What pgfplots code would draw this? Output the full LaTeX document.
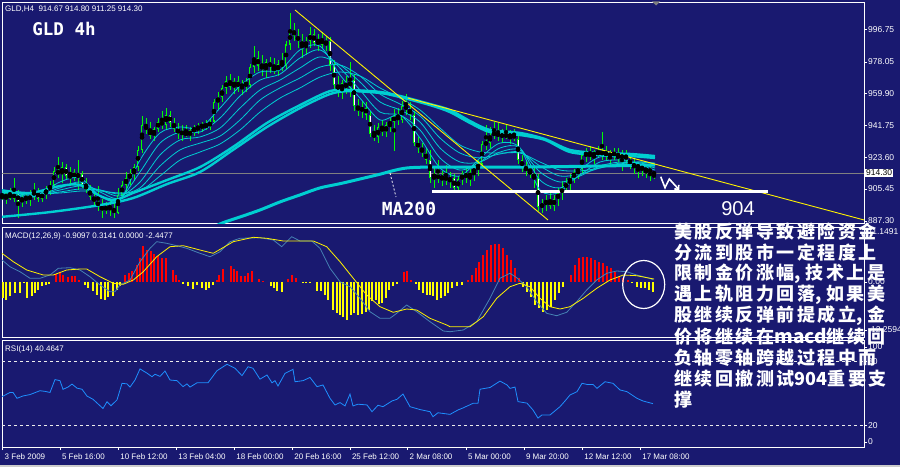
\documentclass[border=0pt]{standalone}
\usepackage{fontspec}
\setmainfont{Liberation Sans}
\newfontfamily\pix{DejaVu Sans Mono}
\newfontfamily\cjk[LetterSpace=14]{Noto Sans CJK SC}
\newfontfamily\cjkn{Noto Sans CJK SC}
\usepackage{pgfplots}
\pgfplotsset{compat=1.18}
\usepackage{pgfplotstable}
\usetikzlibrary{arrows.meta}

\definecolor{mtbg}{RGB}{25,25,112}
\definecolor{bull}{RGB}{0,255,0}
\definecolor{ma}{RGB}{0,206,209}
\definecolor{macdblue}{RGB}{70,130,180}
\definecolor{rsiblue}{RGB}{30,144,255}
\definecolor{histred}{RGB}{255,0,0}
\definecolor{histyel}{RGB}{255,255,0}

\pgfplotsset{
  mt/.style={scale only axis, width=862pt, xmin=2, xmax=864, anchor=south west,
    axis line style={white, line width=0.8pt},
    xtick=\empty,
    ytick pos=right, yticklabel pos=right,
    tick align=outside, major tick length=3pt,
    tick style={white, line width=0.6pt},
    tick label style={font=\fontsize{8.5}{10}\selectfont, text=white},
    yticklabel style={inner xsep=1pt},
  },
  cdl/.style={only marks, mark=none, forget plot,
    error bars/.cd, y dir=both, y explicit, error mark=none,
    error bar style={#1}},
}

% GLD 4h candles: x (pixel column), open high low close
\pgfplotstableread{
x o h l c
2 902 905 899 900
6 900 904 897 903
10 903 906 899 900
14 900 912 898 903
18 903 905 889 898
22 898 903 895 901
26 901 904 897 899
30 899 905 896 902
34 902 909 899 904
38 904 906 898 900
42 900 905 898 903
46 903 907 900 905
50 905 910 902 908
54 908 918 906 916
58 916 924 912 914
62 914 921 909 918
66 918 920 911 913
70 913 918 907 915
74 915 917 910 912
78 912 922 905 914
82 914 916 906 908
86 908 912 903 905
90 905 908 899 901
94 901 904 896 898
98 898 907 893 896
102 896 900 889 893
106 893 898 891 896
110 896 899 890 894
114 894 898 889 892
118 892 906 891 902
122 902 910 900 908
126 908 915 904 912
130 912 917 908 914
134 914 920 910 918
138 918 930 916 928
142 928 947 926 942
146 942 946 937 939
150 939 944 934 936
154 936 941 933 940
158 940 946 938 944
162 944 950 940 942
166 942 952 940 948
170 948 950 941 943
174 943 946 938 940
178 940 943 934 937
182 937 942 933 938
186 938 942 935 936
190 936 941 933 939
194 939 942 936 940
198 940 943 937 941
202 941 944 938 942
206 942 945 939 941
210 941 946 939 944
214 944 957 943 955
218 955 961 951 958
222 958 965 955 963
226 963 970 960 967
230 967 971 962 964
234 964 969 960 967
238 967 970 961 963
242 963 968 959 966
246 966 969 961 965
250 965 977 963 975
254 975 987 972 980
258 980 984 973 976
262 976 982 970 974
266 974 980 969 978
270 978 981 972 975
274 975 980 971 973
278 973 979 970 977
282 977 983 973 976
286 976 990 974 988
290 988 1006 985 996
294 996 1000 990 993
298 993 997 986 990
302 990 994 980 987
306 987 992 982 990
310 990 998 986 994
314 994 997 987 989
318 989 994 984 991
322 991 995 986 988
326 988 993 984 990
330 990 992 973 976
334 976 979 962 965
338 965 970 958 962
342 962 968 957 966
346 966 970 960 963
350 963 978 958 968
354 968 971 950 953
358 953 957 947 950
362 950 956 946 952
366 952 955 945 948
370 948 950 935 937
374 937 942 933 935
378 935 943 932 941
382 941 945 936 938
386 938 944 935 942
390 942 946 938 944
394 944 951 927 947
398 947 952 942 945
402 945 956 943 953
406 953 960 948 951
410 951 955 945 948
414 948 950 930 932
418 932 935 926 929
422 929 932 924 926
426 926 929 920 922
430 922 928 909 912
434 912 918 906 914
438 914 922 909 911
442 911 916 907 913
446 913 919 908 910
450 910 915 906 912
454 912 914 903 906
458 906 913 904 911
462 911 916 908 914
466 914 918 909 912
470 912 917 907 915
474 915 919 910 917
478 917 922 913 920
482 920 933 918 931
486 931 942 928 932
490 932 941 929 936
494 936 944 934 938
498 938 943 933 935
502 935 940 932 937
506 937 942 934 935
510 935 939 931 937
514 937 940 933 934
518 934 937 920 922
522 922 925 915 918
526 918 922 913 916
530 916 920 912 914
534 914 918 906 912
538 912 914 893 895
542 895 900 892 897
546 897 902 893 899
550 899 903 894 896
554 896 902 893 900
558 900 906 896 903
562 903 910 899 906
566 906 912 903 909
570 909 914 905 912
574 912 917 909 915
578 915 919 911 917
582 917 927 914 925
586 925 929 921 926
590 926 930 922 924
594 924 928 920 927
598 927 930 923 925
602 925 938 922 927
606 927 930 922 924
610 924 928 919 926
614 926 929 922 925
618 925 929 921 923
622 923 928 916 925
626 925 928 920 922
630 922 925 917 920
634 920 923 914 918
638 918 921 912 919
642 919 921 913 916
646 916 919 912 917
650 917 918 910 915
654 914.67 914.8 911.25 914.3
}\candles

% moving-average ribbon
\pgfplotstableread{
x r1 r2 r3 r4 r5
0 902.1 902.6 903.2 903.8 903.8
30 900.3 900.9 901.5 902.1 902.6
60 909.5 906.1 904.9 903.8 903.2
80 911.8 909.5 907.2 905.5 904.3
100 901.5 903.8 904.9 904.9 904.3
120 899.2 900.3 901.5 902.6 903.2
140 922.0 915.2 909.5 906.1 904.3
160 937.5 931.7 924.9 918.6 912.9
180 940.9 938.0 933.5 927.8 922.0
200 940.3 938.0 935.2 931.7 926.6
220 951.7 946.0 940.3 935.7 931.2
240 964.3 958.6 951.7 944.9 939.2
260 972.3 967.7 962.0 956.3 949.4
280 973.4 971.1 967.7 963.2 957.4
300 984.9 980.3 974.6 968.9 963.2
320 987.1 984.9 980.9 975.1 969.4
340 970.6 974.6 976.3 976.3 972.3
360 957.4 962.0 966.6 970.0 970.0
380 944.9 949.4 955.2 959.7 963.2
400 947.7 947.7 950.6 954.0 957.4
420 934.6 939.2 943.7 947.2 950.6
440 917.5 923.2 928.9 934.6 940.3
460 912.9 916.3 920.9 926.0 930.6
480 923.2 920.9 920.9 923.2 926.6
500 931.7 928.9 926.6 925.5 926.0
520 928.9 928.9 927.8 926.6 926.0
540 904.9 910.6 915.2 918.6 920.9
560 903.8 906.1 909.5 912.9 916.3
580 916.3 913.5 912.9 914.0 915.8
600 923.8 920.9 918.6 917.5 917.5
620 923.2 922.0 920.9 920.3 919.8
640 919.2 919.8 920.3 920.9 920.9
655 916.3 917.5 918.6 919.8 920.3
}\ribbon

\begin{document}
\begin{tikzpicture}
\path[use as bounding box, fill=mtbg] (0,0) rectangle (900pt,467pt);
\fill[gray!40] (0,0) rectangle (900pt,2pt);

% ---------------- price panel
\begin{axis}[mt, at={(2pt,244pt)}, height=221pt,
  ymin=886.07, ymax=1012.26,
  ytick={887.30,905.45,923.60,941.75,959.90,978.05,996.75},
  yticklabels={887.30,905.45,923.60,941.75,959.90,978.05,996.75}]
\addplot[gray, line width=0.8pt, forget plot] coordinates {(2,914.3) (864,914.3)};
\addplot[cdl={draw=bull, line width=1pt}] table[x=x, y expr={(\thisrow{h}+\thisrow{l})/2}, y error expr={(\thisrow{h}-\thisrow{l})/2}] {\candles};
\addplot[cdl={draw=bull, line width=2.8pt}] table[x=x, y expr={(\thisrow{o}+\thisrow{c})/2}, y error expr={max(abs(\thisrow{o}-\thisrow{c})/2,0.35)}] {\candles};
\addplot[cdl={draw=white, line width=0.9pt}] table[x=x, y expr={ifthenelse(\thisrow{o}>\thisrow{c},(\thisrow{o}+\thisrow{c})/2,2000)}, y error expr={max(abs(\thisrow{o}-\thisrow{c})/2-0.6,0)}] {\candles};
\addplot[cdl={draw=mtbg, line width=0.9pt}] table[x=x, y expr={ifthenelse(\thisrow{c}>\thisrow{o},(\thisrow{o}+\thisrow{c})/2,2000)}, y error expr={max(abs(\thisrow{o}-\thisrow{c})/2-0.6,0)}] {\candles};
% ribbon
\addplot[ma, line width=0.8pt, smooth] table[x=x, y=r1] {\ribbon};
\addplot[ma, line width=0.8pt, smooth] table[x=x, y=r2] {\ribbon};
\addplot[ma, line width=0.8pt, smooth] table[x=x, y=r3] {\ribbon};
\addplot[ma, line width=0.8pt, smooth] table[x=x, y=r4] {\ribbon};
\addplot[ma, line width=0.8pt, smooth] table[x=x, y=r5] {\ribbon};
% slower averages
\addplot[ma, line width=2.4pt, smooth] coordinates {(0,904.9) (30,903.2) (60,907.2) (80,907.8) (100,901.5) (115,899.2) (133,903.2) (167,910.6) (200,918.0) (233,929.5) (267,943.2) (300,953.4) (330,961.4) (350,962.0) (380,960.9) (400,958.6) (430,954.0) (450,950.6) (470,944.3) (490,939.2) (520,937.5) (545,934.0) (570,927.8) (600,926.0) (630,925.5) (655,924.3)};
\addplot[ma, line width=2.4pt, smooth] coordinates {(0,889.5) (50,892.3) (100,896.3) (133,900.3) (167,908.3) (200,915.2) (233,927.8) (267,940.9) (300,951.7) (330,959.7) (350,961.4) (380,960.3) (400,958.0) (430,953.4) (450,949.4) (470,943.2) (490,938.0) (520,936.3) (545,933.5) (570,926.6) (600,924.9) (630,924.3) (655,923.2)};
% MA200
\addplot[ma, line width=3pt, smooth] coordinates {(200,879) (220,885.5) (240,889.5) (260,893.5) (280,898.1) (300,902.1) (320,906.1) (343,908.9) (377,913.5) (407,917.5) (450,918.0) (520,918.0) (600,918.6) (655,919.2)};
% trend lines and support
\addplot[yellow, line width=0.9pt] coordinates {(295,1007.7) (548,887.8)};
\addplot[yellow, line width=0.9pt] coordinates {(408,957.4) (864,887.8)};
\addplot[white, line width=2.6pt] coordinates {(432,904.0) (768,904.0)};
\end{axis}

% ---------------- MACD panel
\begin{axis}[mt, at={(2pt,130pt)}, height=110pt,
  ymin=-55, ymax=55, ytick={50,0,-48}, yticklabels={11.1491,0.00,-12.2594}]
\addplot[ycomb, histyel, line width=1.2pt] coordinates {
(3,-16) (6,-17.7) (10,-14.3) (15,-11) (20,-11) (24,-1) (27,-16) (32,-14.3) (35,-11) (38,-7.7) (42,-4.3) (46,-2.7) (49,-2)
(85,-2.7) (88,-6) (93,-9.3) (97,-13.3) (101,-16.7) (105,-17.7) (108,-15.3) (113,-14.3) (117,-7.7) (120,-4.3)
(183,-2) (188,-4.3) (193,-6.7) (197,-2.7) (202,-6) (206,-7.7) (209,-6) (213,-3.3)
(271,-4.3) (274,-6) (277,-9.3) (282,-10)
(303,-0.7) (306,-0.7) (310,-0.7)
(317,-8.7) (321,-9.3) (325,-12.7) (328,-17.7) (333,-27.7) (337,-31) (340,-32.7) (343,-35) (347,-37.7) (351,-32.7) (354,-31) (358,-32.7) (362,-32) (366,-30) (369,-27.7) (372,-19.3) (376,-17.7) (379,-22) (382,-21) (386,-16) (389,-7.7) (393,-4.3) (397,-2)
(416,-2) (419,-7.7) (423,-11) (427,-12.7) (430,-13) (433,-14.3) (437,-17.7) (441,-16) (445,-14.3) (448,-11)
(452,-6) (457,-4) (462,-3)
(523,-4.7) (527,-9.7) (531,-14.7) (535,-23) (539,-26.3) (543,-29.7) (547,-28) (551,-24.7) (555,-18) (559,-11.3) (563,-4.7)
(632,-1) (637,-4.7) (641,-5.7) (645,-6.3) (649,-8) (653,-9.7)};
\addplot[ycomb, histred, line width=1.2pt] coordinates {
(56,8) (60,9.7) (63,7.3) (68,4.7) (72,5.7) (75,5.7) (79,2.3)
(125,7.3) (129,9) (132,10.7) (137,17.3) (140,24) (143,35.7) (147,32.3) (151,30.7) (154,28) (158,25.7) (162,24) (166,24) (173,11.7) (176,6.7) (179,2.3)
(217,2.3) (219,7.3) (223,13) (231,15.7) (234,13.3) (237,10.7) (241,5.7) (245,5.7) (248,9) (252,11.3) (259,3.3) (263,0.7)
(288,3.3) (292,7.3) (296,4)
(404,9.7) (407,10.7) (411,2.3)
(468,2) (472,7) (476,13.7) (479,20.3) (483,27) (487,32) (491,37) (495,37.7) (499,37.7) (503,33.7) (507,27) (511,22) (515,13.7) (519,3.7)
(571,7) (575,17) (579,23.7) (583,25.3) (587,25.3) (591,23.7) (595,22) (599,20.3) (603,18.7) (607,16.3) (611,14.3) (615,10.3) (619,5.3) (623,3.7) (628,2)};
\addplot[macdblue, line width=0.8pt] coordinates {
(2,22) (10,15.3) (20,10.3) (30,3.7) (40,3.7) (50,7) (58.3,13.7) (70,14.3) (80,12) (90,5.3) (100,-3) (110,-9.7) (115,-9.7) (120,-3) (130,2) (140,20.3) (150,33.7) (156.7,40.3) (166.7,38.7) (176.7,36.3) (186.7,33.7) (200,28.7) (210,25.3) (220,30.3) (230,40.3) (240,43.7) (260,44.3) (273.3,42) (281.7,35.3) (291.7,45.3) (300,41) (311.7,41) (320,33.7) (330,13.7) (340,0.3) (350,-4.7) (360,-16.3) (370,-29.7) (380,-36.3) (390,-36.3) (396.7,-31.3) (406.7,-23) (416.7,-29.7) (430,-39.7) (443.3,-49) (450,-49.7) (463.3,-48) (476.7,-39.7) (490,-16.3) (500,3.7) (510,8.7) (516.7,4.3) (526.7,-4.7) (536.7,-19.7) (546.7,-31.3) (556.7,-33.7) (566.7,-30.3) (576.7,-19.7) (586.7,-8) (596.7,2) (606.7,8.7) (616.7,11) (626.7,10.3) (636.7,7) (650,3.7) (653.3,2)};
\addplot[yellow, line width=0.8pt] coordinates {
(2,28.7) (13.3,20.3) (26.7,12) (43.3,7) (53.3,7) (66.7,12) (80,13) (86.7,13) (100,5.3) (113.3,-1.3) (123.3,-2.3) (133.3,2) (143.3,10.3) (156.7,25.3) (170,35.3) (183.3,36.3) (200,32) (213.3,28.7) (233.3,40.3) (253.3,44.7) (266.7,43.7) (283.3,41) (313.3,41) (326.7,35.3) (340,20.3) (353.3,3.7) (366.7,-13) (380,-24.7) (393.3,-30.3) (406.7,-27) (416.7,-28) (430,-36.3) (446.7,-43) (450,-44.7) (470,-44.7) (483.3,-34.7) (496.7,-16.3) (510,-4.7) (520,-1.3) (530,-4.7) (540,-16.3) (550,-24.7) (560,-27) (570,-24.7) (583.3,-16.3) (596.7,-6.3) (610,2) (623.3,7) (636.7,6.3) (650,3.7) (654,3)};
\end{axis}

% ---------------- RSI panel
\begin{axis}[mt, at={(2pt,20pt)}, height=107pt,
  ymin=0, ymax=100, ytick={4.7,20,80,93.5}, yticklabels={0,20,80,100},
  xtick={2.7,60,118.3,176.3,234.3,292.3,350,407.7,466,524,582.3,640.3},
  xticklabels={3 Feb 2009,5 Feb 16:00,10 Feb 12:00,13 Feb 04:00,18 Feb 00:00,20 Feb 16:00,25 Feb 12:00,2 Mar 08:00,5 Mar 00:00,9 Mar 20:00,12 Mar 12:00,17 Mar 08:00},
  xtick pos=left, xticklabel pos=left,
  xticklabel style={anchor=north west, xshift=-1.5pt, font=\fontsize{8}{9.6}\selectfont}]
\addplot[white!85!gray, line width=0.6pt, dash pattern=on 3pt off 3pt] coordinates {(2,80) (864,80)};
\addplot[white!85!gray, line width=0.6pt, dash pattern=on 3pt off 3pt] coordinates {(2,20) (864,20)};
\addplot[rsiblue, line width=0.8pt] coordinates {
(2,47) (10,51) (13,51) (17,45.5) (23,47.7) (30,49) (40,52.6) (45,52) (50,51) (55,63) (60,62) (63,53.9) (68,56) (72,58.8) (77,55) (82,54) (87,47.6) (93,44.6) (103,36) (107,42.3) (111,38.6) (117,44) (122,59.5) (127,59) (130,56) (135,62.6) (140,73) (147,69) (152,65.7) (155,68) (160,66) (165,71) (170,62.6) (177,62) (183,56.4) (187,59) (190,56) (197,60) (208,60) (217,71.3) (227,77.3) (235,73.6) (242,66.7) (248,75) (253,73.6) (260,63.4) (267,67.3) (272,60) (275,62) (278,57) (285,68.8) (293,72.6) (295,61) (303,62) (310,65) (317,56.4) (323,58) (330,45.5) (335,39.3) (340,41.5) (345,38.4) (350,49.5) (353,38.4) (358,40) (367,39.3) (372,33) (378,39) (383,37.7) (392,43) (397,44.6) (403,49.5) (410,37.7) (420,35) (430,33) (433,28.3) (438,32) (450,30.5) (458,34.6) (463,36.5) (473,40.8) (478,40.8) (480,54) (490,55.6) (500,61.6) (507,58) (510,54.8) (515,56) (518,42.4) (527,41) (533,34.6) (538,27) (542,30) (550,29.9) (560,37.7) (565,43) (570,48.6) (577,51.7) (582,59.5) (587,58.5) (593,58.5) (597,54.8) (605,61) (613,59.5) (620,53.3) (627,51.7) (637,45.5) (643,43) (653,40.5)};
\end{axis}

% ---------------- labels and drawings on the chart
\fill[gray] (652pt,465.5pt) -- (660pt,465.5pt) -- (656pt,461.5pt) -- cycle;
\node[anchor=west, text=white, inner sep=0, font=\fontsize{8}{9}\selectfont] at (5pt,457.5pt) {GLD,H4\ \ 914.67 914.80 911.25 914.30};
\node[anchor=west, text=white, inner sep=0, font=\fontsize{8}{9}\selectfont] at (5pt,230.5pt) {MACD(12,26,9) -0.9097 0.3141 0.0000 -2.4477};
\node[anchor=west, text=white, inner sep=0, font=\fontsize{8}{9}\selectfont] at (5pt,117.5pt) {RSI(14) 40.4647};
\node[anchor=west, fill=white, text=black, inner sep=1pt, font=\fontsize{8.5}{10}\selectfont] at (865pt,294pt) {914.30};
\node[text=white, inner sep=0, font=\pix\bfseries\fontsize{17.5}{18}\selectfont] at (64pt,438pt) {GLD 4h};
\node[text=white, inner sep=0, font=\pix\bfseries\fontsize{18}{18}\selectfont] at (409pt,258pt) {MA200};
\node[text=white, inner sep=0, font=\fontsize{20}{20}\selectfont] at (738pt,258pt) {904};
\draw[white, line width=0.8pt, dash pattern=on 2pt off 2pt] (390pt,294pt) -- (396pt,270pt);
\draw[white, line width=1.6pt, -{Straight Barb[length=3pt]}] (660.7pt,290.3pt) -- (665pt,279.3pt) -- (669.3pt,288pt) -- (679.3pt,277pt);
\draw[white, line width=1.2pt] (643.7pt,182.5pt) ellipse [x radius=21pt, y radius=24pt];

\begin{scope}[every node/.style={anchor=west, text=white, inner sep=0, font=\cjk\bfseries\fontsize{18}{18}\selectfont}]
\node at (674pt,235pt) {美股反弹导致避险资金};
\node at (674pt,214pt) {分流到股市一定程度上};
\node at (674pt,193pt) {限制金价涨幅{\cjkn\makebox[11pt][l]{,}}技术上是};
\node at (674pt,172pt) {遇上轨阻力回落{\cjkn\makebox[11pt][l]{,}}如果美};
\node at (674pt,151pt) {股继续反弹前提成立{\cjkn\makebox[11pt][l]{,}}金};
\node at (674pt,130pt) {价将继续在{\cjkn\fontsize{19}{18}\selectfont macd}继续回};
\node at (674pt,109pt) {负轴零轴跨越过程中而};
\node at (674pt,88pt) {继续回撤测试{\cjkn 904}重要支};
\node at (674pt,67pt) {撑};
\end{scope}
\end{tikzpicture}
\end{document}
